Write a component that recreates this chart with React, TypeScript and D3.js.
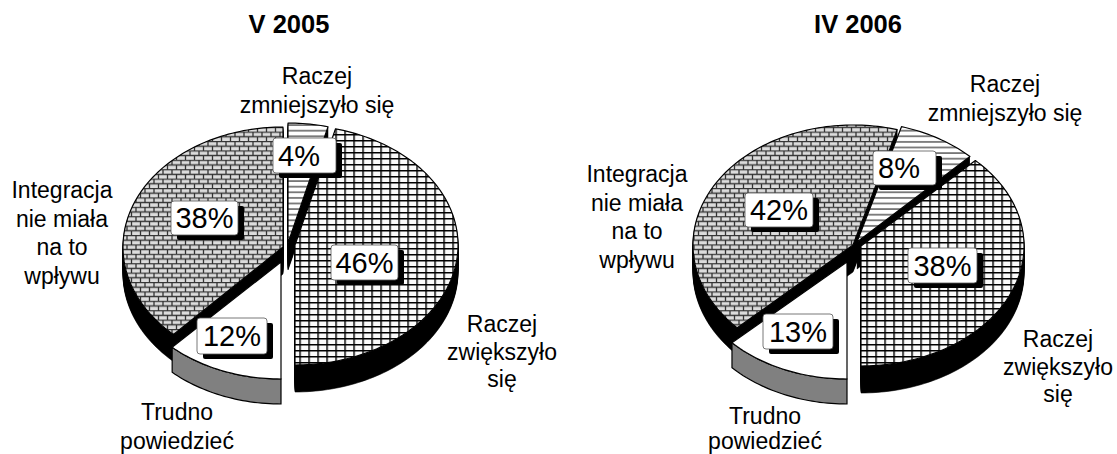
import React from "react";
import * as d3 from "d3";

const W = 1117, H = 454;
const keys = ["zmn", "zwi", "tru", "bez"];
const values2005 = [4, 46, 12, 38];
const values2006 = [8, 38, 13, 42];
const percentLabels2005 = ["4%", "46%", "12%", "38%"];
const percentLabels2006 = ["8%", "38%", "13%", "42%"];
const title2005 = "V 2005";
const title2006 = "IV 2006";
const catZmn = ["Raczej", "zmniejszyło się"];
const catZwi = ["Raczej", "zwiększyło", "się"];
const catTru = ["Trudno", "powiedzieć"];
const catBez = ["Integracja", "nie miała", "na to", "wpływu"];

const RADII: [number, number][] = [[161, 120], [163, 120], [159, 117], [160, 120]];
const DEPTH = 27, GRAY_DEPTH = 25;
const FONT = "'Liberation Sans', Arial, sans-serif";

type Spec = {
  title: string; titleX: number; values: number[]; pct: string[];
  centers: [number, number][];
  boxes: [number, number, number, number][];
  cats: { lines: string[]; x: number; y: number; lh?: number }[];
};

const specs: Spec[] = [
  {
    title: title2005, titleX: 289, values: values2005, pct: percentLabels2005,
    centers: [[288, 243], [295, 245], [281, 262], [283, 247]],
    boxes: [[273, 138, 63, 35], [331, 245, 67, 35], [197, 318, 70, 36], [171, 201, 67, 34]],
    cats: [
      { lines: catZmn, x: 317, y: 84 },
      { lines: catZwi, x: 502, y: 332, lh: 27.5 },
      { lines: catTru, x: 177, y: 420, lh: 28.7 },
      { lines: catBez, x: 62, y: 198 },
    ],
  },
  {
    title: title2006, titleX: 858, values: values2006, pct: percentLabels2006,
    centers: [[857, 242], [861, 246], [847, 262], [853, 245]],
    boxes: [[873, 151, 63, 34], [908, 248, 69, 35], [763, 314, 70, 35], [745, 193, 68, 34]],
    cats: [
      { lines: catZmn, x: 1005, y: 92 },
      { lines: catZwi, x: 1058, y: 347, lh: 27.5 },
      { lines: catTru, x: 765, y: 424, lh: 25 },
      { lines: catBez, x: 637, y: 182 },
    ],
  },
];

const fills = ["url(#stripes)", "url(#check)", "#fff", "url(#brick)"];
const sideFill = ["#000", "#000", "#808080", "#000"];
const drawOrder = [3, 0, 1, 2];

function angles(values: number[]) {
  const sum = d3.sum(values);
  const start = Math.PI - ((values[0] + values[1]) / sum) * 2 * Math.PI;
  return d3
    .pie<number>()
    .sort(null)
    .startAngle(start)
    .endAngle(start + 2 * Math.PI)(values);
}

const rimLine = d3.line<[number, number]>().curve(d3.curveLinear);

function rim(c: [number, number], r: [number, number], a0: number, a1: number, dy = 0) {
  const xs = d3.scaleLinear().domain([-1, 1]).range([c[0] - r[0], c[0] + r[0]]);
  const ys = d3.scaleLinear().domain([-1, 1]).range([c[1] - r[1] + dy, c[1] + r[1] + dy]);
  const n = Math.max(2, Math.ceil(Math.abs(a1 - a0) * 40));
  return d3.range(n + 1).map((i): [number, number] => {
    const a = a0 + ((a1 - a0) * i) / n;
    return [xs(Math.sin(a)), ys(-Math.cos(a))];
  });
}

function slicePath(c: [number, number], r: [number, number], a0: number, a1: number, dy = 0) {
  return rimLine([[c[0], c[1] + dy], ...rim(c, r, a0, a1, dy)])! + "Z";
}

function bandPath(c: [number, number], r: [number, number], a0: number, a1: number) {
  return rimLine([...rim(c, r, a0, a1), ...rim(c, r, a1, a0, GRAY_DEPTH)])! + "Z";
}

const depthSteps = d3.range(1, DEPTH + 1);

function Pie({ spec }: { spec: Spec }) {
  const arcs = angles(spec.values);
  return (
    <g>
      <text x={spec.titleX} y={33} textAnchor="middle" fontFamily={FONT} fontWeight="bold" fontSize={25.5}>
        {spec.title}
      </text>
      {drawOrder.map((i) => {
        const a = arcs[i];
        const c = spec.centers[i];
        const r = RADII[i];
        const a0 = a.startAngle, a1 = a.endAngle;
        return (
          <g key={keys[i]}>
            {i === 2 ? (
              <path d={bandPath(c, r, a0, a1)} fill={sideFill[i]} stroke="#000" strokeWidth={1.2} />
            ) : (
              depthSteps.map((d) => (
                <path key={d} d={slicePath(c, r, a0, a1, d)} fill="#000" stroke="#000" strokeWidth={0.6} />
              ))
            )}
            <path d={slicePath(c, r, a0, a1)} fill="#fff" stroke="none" />
            <path d={slicePath(c, r, a0, a1)} fill={fills[i]} stroke="#000" strokeWidth={1.2} strokeLinejoin="round" />
          </g>
        );
      })}
      {spec.pct.map((t, i) => {
        const [x, y, w, h] = spec.boxes[i];
        return (
          <g key={keys[i]}>
            <rect x={x + 6} y={y + 5} width={w} height={h} rx={2} fill="#000" />
            <rect x={x} y={y} width={w} height={h} rx={3} fill="#fff" stroke="#555" strokeWidth={0.8} />
            <text
              x={x + (t.length === 2 ? 5 : w / 2)}
              y={y + h / 2 + 10}
              textAnchor={t.length === 2 ? "start" : "middle"}
              fontFamily={FONT}
              fontSize={29}
            >
              {t}
            </text>
          </g>
        );
      })}
      {spec.cats.map((cat, i) => (
        <text key={keys[i]} textAnchor="middle" fontFamily={FONT} fontSize={23}>
          {cat.lines.map((l, j) => (
            <tspan key={j} x={cat.x} y={cat.y + j * (cat.lh ?? 28.7)}>
              {l}
            </tspan>
          ))}
        </text>
      ))}
    </g>
  );
}

export default function App() {
  return (
    <svg
      width={W}
      height={H}
      viewBox={`0 0 ${W} ${H}`}
      style={{ position: "absolute", left: 0, top: 0, background: "#fff" }}
    >
      <defs>
        <pattern id="brick" width={9} height={9.4} patternUnits="userSpaceOnUse">
          <rect width={9} height={9.4} fill="#dcdcdc" />
          <path d="M0 0.5H9M0 5.2H9M1 0V4.7M5.5 4.7V9.4" stroke="#333" strokeWidth={1.3} fill="none" />
        </pattern>
        <pattern id="check" width={9} height={6} patternUnits="userSpaceOnUse">
          <rect width={9} height={6} fill="#fafafa" />
          <rect x={2} width={2.2} height={6} fill="#555" />
          <rect y={2} width={9} height={1.5} fill="#000" />
        </pattern>
        <pattern id="stripes" width={6} height={5.6} patternUnits="userSpaceOnUse">
          <rect width={6} height={5.6} fill="#fff" />
          <rect y={1} width={6} height={1.8} fill="#777" />
        </pattern>
      </defs>
      {specs.map((s) => (
        <Pie key={s.title} spec={s} />
      ))}
    </svg>
  );
}
